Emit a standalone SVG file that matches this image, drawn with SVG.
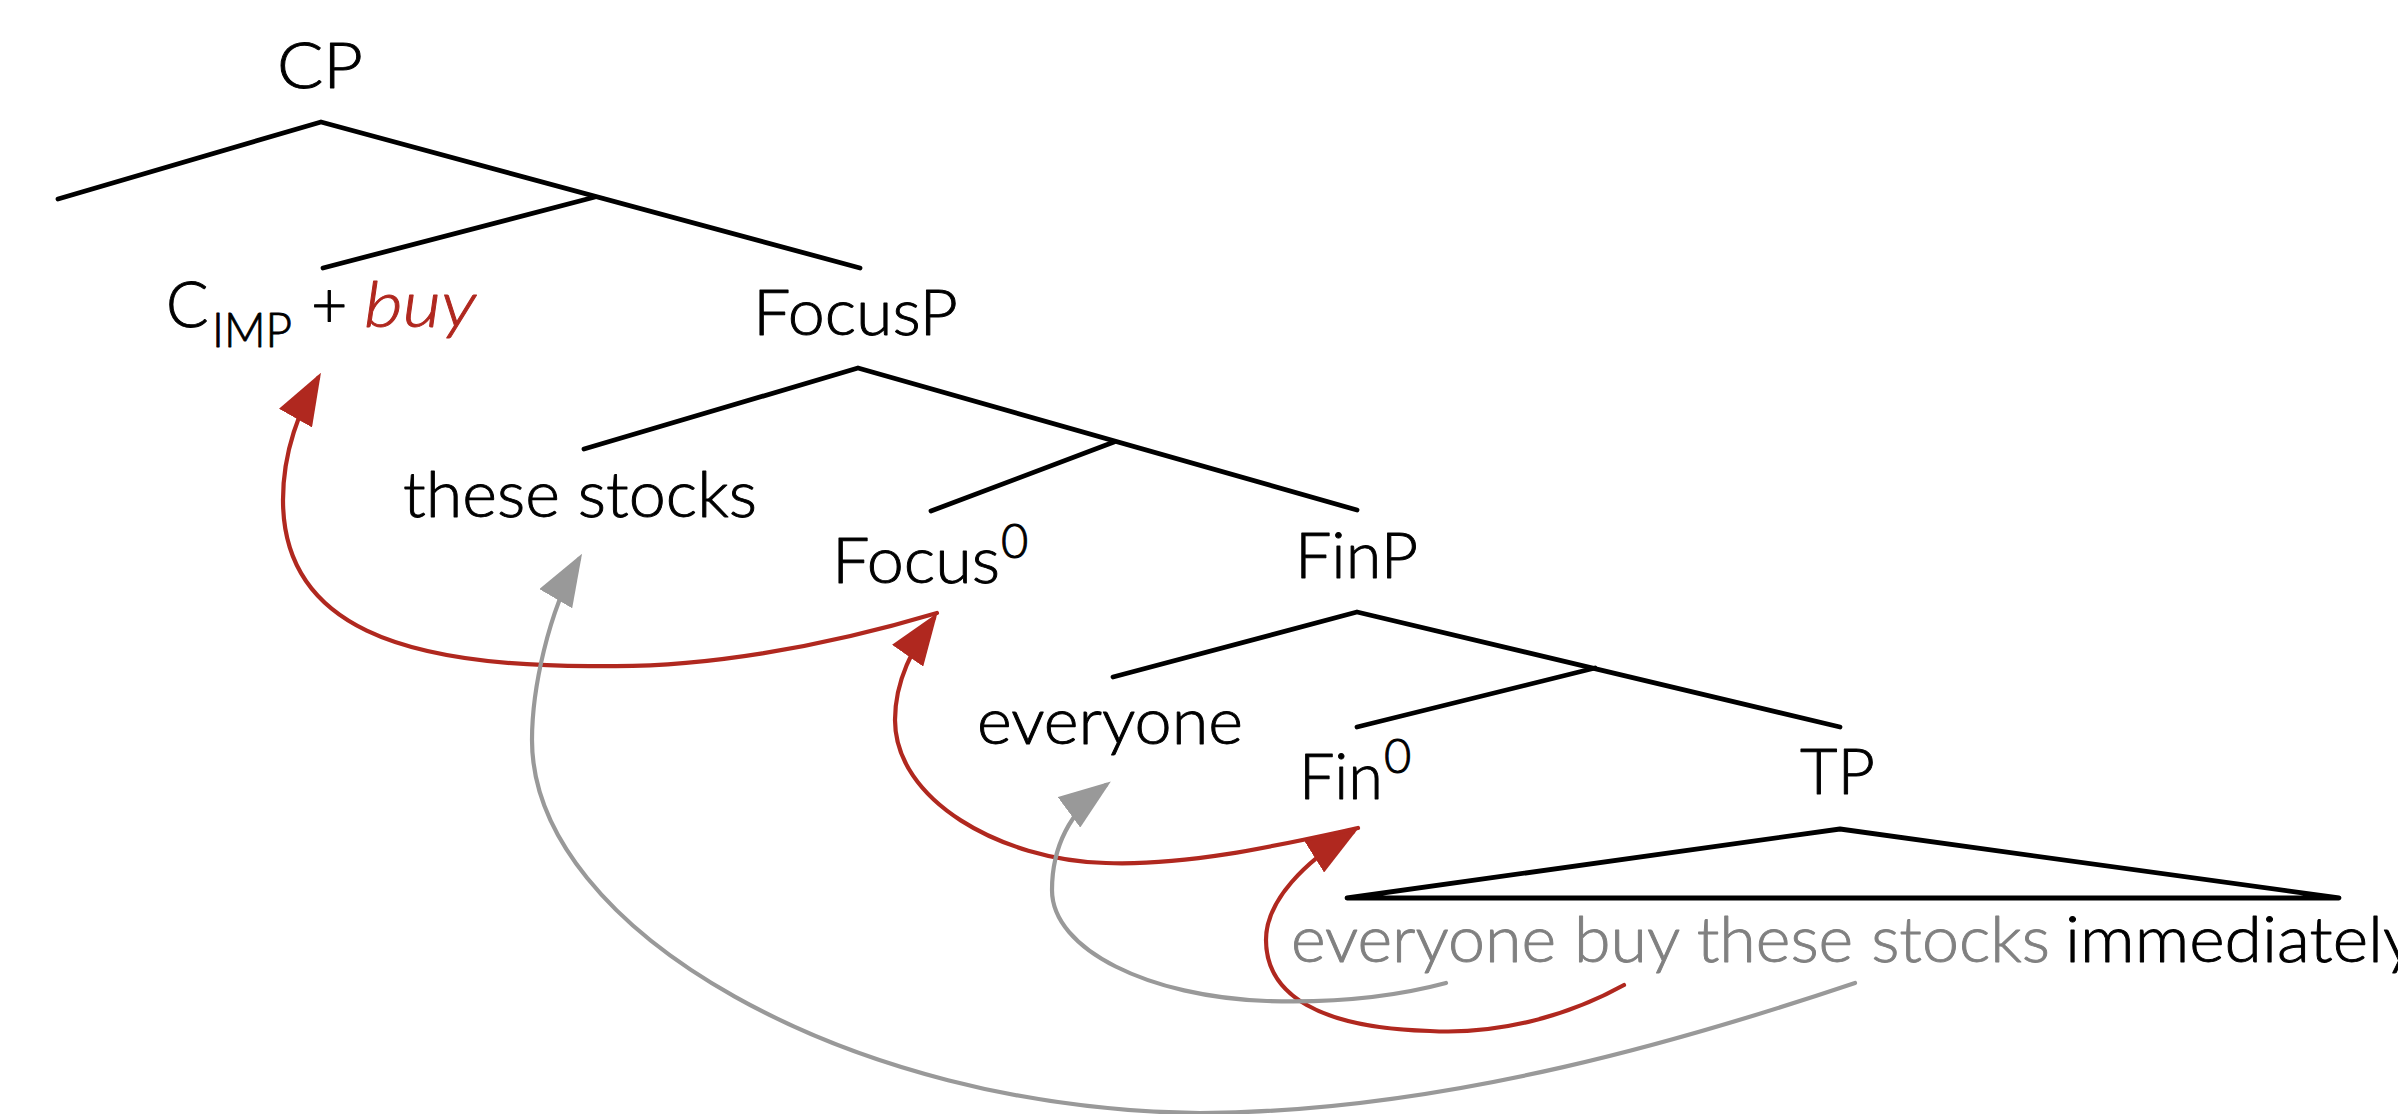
<svg xmlns="http://www.w3.org/2000/svg" width="2398" height="1114" viewBox="0 0 2398 1114">
  <style>
    .lbl { font-family: Lato, "Open Sans", "Liberation Sans", sans-serif; font-weight: 300; font-size: 63px; fill: #000; stroke: #000; stroke-width: 0.9; stroke-linejoin: round; }
    .sub { font-size: 47px; }
    .red { fill: #B0281F; stroke: #B0281F; }
    .it { font-style: italic; }
    .trace { fill: #808080; stroke: #808080; }
    .branch { fill: none; stroke: #000; stroke-width: 4.8; stroke-linecap: round; stroke-linejoin: round; }
    .mv { fill: none; stroke-width: 4.2; stroke-linecap: round; }
    .mv-red { stroke: #B0281F; marker-end: url(#head-red); }
    .mv-gray { stroke: #999999; marker-end: url(#head-gray); }
  </style>
  <defs>
    <marker id="head-red" markerUnits="userSpaceOnUse" viewBox="0 0 52 38" markerWidth="52" markerHeight="38" refX="46" refY="19" orient="auto">
      <path d="M0,0 L52,19 L0,38 Z" fill="#B0281F"/>
    </marker>
    <marker id="head-gray" markerUnits="userSpaceOnUse" viewBox="0 0 52 38" markerWidth="52" markerHeight="38" refX="46" refY="19" orient="auto">
      <path d="M0,0 L52,19 L0,38 Z" fill="#999999"/>
    </marker>
  </defs>

  <rect width="2398" height="1114" fill="#fff"/>

  <!-- tree branches and movement arrows -->
  <g id="connectors">
    <g id="branches" class="branch">
      <polyline points="58,199 321,122 860,268"/>
      <line x1="595" y1="197" x2="323" y2="268"/>
      <polyline points="584,449 858,368 1357,510"/>
      <line x1="1114" y1="442" x2="931" y2="511"/>
      <polyline points="1113,677 1357,612 1840,727"/>
      <line x1="1595" y1="668" x2="1357" y2="727"/>
      <polygon points="1840,829 2339,898 1347,898"/>
    </g>
    <g id="movement">
      <!-- buy: V -> Fin0 -> Focus0 -> C -->
      <path class="mv mv-red" d="M1624,985 C1570,1015 1500,1035 1430,1031 C1320,1028 1266,995 1266,940 C1266,900 1305,862 1353,832"/>
      <path class="mv mv-red" d="M1358,828 C1280,845 1190,866 1106,863 C1000,860 895,800 895,720 C895,680 913,648 934,618"/>
      <path class="mv mv-red" d="M937,613 C820,648 700,668 602,666 C400,668 283,625 283,500 C283,450 300,410 318,378"/>
      <!-- subject and object movement -->
      <path class="mv mv-gray" d="M1446,983 C1390,998 1330,1003 1267,1001 C1150,997 1052,950 1052,890 C1052,850 1068,813 1106,785"/>
      <path class="mv mv-gray" d="M1855,983 C1700,1035 1450,1112 1200,1113 C850,1110 532,930 532,740 C532,690 548,612 579,559"/>
    </g>
  </g>

  <g id="cp"><text class="lbl" x="277" y="88" textLength="86" lengthAdjust="spacingAndGlyphs">CP</text></g>
  <g id="c-imp">
    <text class="lbl" x="166" y="327">C</text>
    <text class="lbl sub" x="212" y="347" textLength="80" lengthAdjust="spacingAndGlyphs">IMP</text>
    <text class="lbl" x="311" y="327">+</text>
    <text class="lbl red it" x="364" y="327" textLength="112" lengthAdjust="spacingAndGlyphs">buy</text>
  </g>
  <g id="focusp"><text class="lbl" x="753" y="335" textLength="205" lengthAdjust="spacingAndGlyphs">FocusP</text></g>
  <g id="these-stocks"><text class="lbl" x="403" y="517" textLength="354" lengthAdjust="spacingAndGlyphs">these stocks</text></g>
  <g id="focus0">
    <text class="lbl" x="832" y="583" textLength="168" lengthAdjust="spacingAndGlyphs">Focus</text>
    <text class="lbl sub" x="1001" y="558">0</text>
  </g>
  <g id="finp"><text class="lbl" x="1295" y="578" textLength="123" lengthAdjust="spacingAndGlyphs">FinP</text></g>
  <g id="everyone"><text class="lbl" x="977" y="744" textLength="266" lengthAdjust="spacingAndGlyphs">everyone</text></g>
  <g id="fin0">
    <text class="lbl" x="1299" y="799" textLength="84" lengthAdjust="spacingAndGlyphs">Fin</text>
    <text class="lbl sub" x="1384" y="773">0</text>
  </g>
  <g id="tp"><text class="lbl" x="1800" y="794" textLength="75" lengthAdjust="spacingAndGlyphs">TP</text></g>
  <g id="tp-content">
    <text class="lbl trace" x="1291" y="962" textLength="759" lengthAdjust="spacingAndGlyphs">everyone buy these stocks</text>
    <text class="lbl" x="2065" y="962" textLength="352" lengthAdjust="spacingAndGlyphs">immediately</text>
  </g>
</svg>
